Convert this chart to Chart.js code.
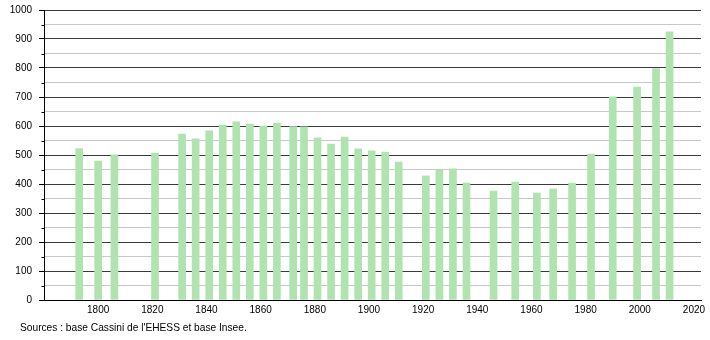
<!DOCTYPE html>
<html>
<head>
<meta charset="utf-8">
<script src="https://cdn.jsdelivr.net/npm/chart.js@4/dist/chart.umd.min.js"></script>
<style>
  html, body { margin: 0; padding: 0; background: #fff; }
  #wrap { position: relative; width: 710px; height: 340px; }
  #src { position: absolute; left: 20px; top: 322px; font: 10.2px "Liberation Sans", Arial, sans-serif; color: #000; white-space: nowrap; }
</style>
</head>
<body>
<div id="wrap">
  <canvas id="c" width="710" height="340"></canvas>
  <div id="src">Sources : base Cassini de l'EHESS et base Insee.</div>
</div>
<script>
const years = [1793,1800,1806,1821,1831,1836,1841,1846,1851,1856,1861,1866,1872,1876,1881,1886,1891,1896,1901,1906,1911,1921,1926,1931,1936,1946,1954,1962,1968,1975,1982,1990,1999,2006,2011];
const population = [522,479,501,507,572,556,583,603,614,607,600,610,598,597,559,538,562,521,514,510,476,428,448,452,403,376,407,369,383,403,503,701,734,798,925];
const xTickYears = [1800,1820,1840,1860,1880,1900,1920,1940,1960,1980,2000,2020];
const yTickValues = [0,100,200,300,400,500,600,700,800,900,1000];

const FONT = { family: '"Liberation Sans", Arial, sans-serif', size: 10 };

const minorTicks = {
  id: 'minorTicks',
  afterDraw(chart) {
    const s = chart.scales.y, ctx = chart.ctx;
    ctx.save();
    ctx.strokeStyle = '#000';
    ctx.lineWidth = 1;
    for (let v = 50; v < 1000; v += 100) {
      const y = Math.round(s.getPixelForValue(v)) + 0.5;
      ctx.beginPath();
      ctx.moveTo(s.right - 2.5, y);
      ctx.lineTo(s.right, y);
      ctx.stroke();
    }
    ctx.restore();
  }
};

new Chart(document.getElementById('c'), {
  type: 'bar',
  data: {
    datasets: [{
      data: years.map((y, i) => ({ x: y, y: population[i] })),
      backgroundColor: '#b0e3b0',
      borderWidth: 0,
      barThickness: 7
    }]
  },
  options: {
    responsive: false,
    animation: false,
    layout: { padding: { top: 10, right: 9, bottom: 20, left: 0 } },
    plugins: { legend: { display: false }, tooltip: { enabled: false }, title: { display: false } },
    scales: {
      x: {
        type: 'linear',
        offset: false,
        min: 1780,
        max: 2022.6,
        afterBuildTicks: s => { s.ticks = xTickYears.map(v => ({ value: v })); },
        afterFit: s => { s.height = 20; s.paddingLeft = 0; s.paddingRight = 0; },
        grid: { display: false, drawTicks: false },
        border: { display: true, color: '#000', width: 1 },
        ticks: { font: FONT, color: '#000', padding: 4, maxRotation: 0, autoSkip: false, callback: v => String(v) }
      },
      y: {
        min: 0,
        max: 1000,
        afterBuildTicks: s => {
          const t = [];
          for (let v = 0; v <= 1000; v += 50) t.push({ value: v });
          s.ticks = t;
        },
        afterFit: s => { s.width = 44; s.paddingTop = 0; s.paddingBottom = 0; },
        grid: {
          color: c => (c.tick && c.tick.value % 100 === 0) ? '#3a3a3a' : '#c8c8c8',
          tickColor: c => (c.tick && c.tick.value % 100 === 0) ? '#000' : 'rgba(0,0,0,0)',
          tickLength: 5,
          lineWidth: 1
        },
        border: { display: true, color: '#000', width: 1 },
        ticks: {
          font: FONT, color: '#000', padding: 7, autoSkip: false,
          callback: v => yTickValues.includes(v) ? String(v) : ''
        }
      }
    }
  },
  plugins: [minorTicks]
});
</script>
</body>
</html>
